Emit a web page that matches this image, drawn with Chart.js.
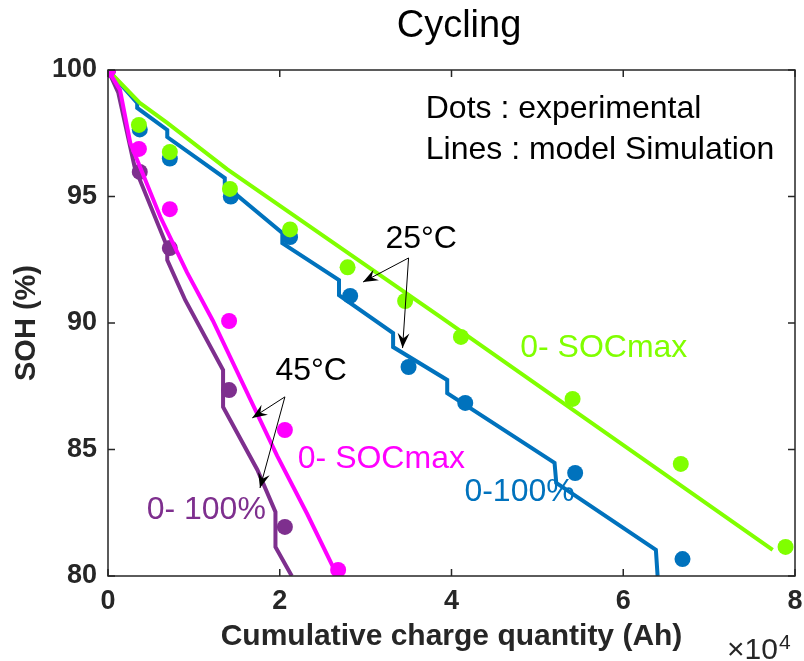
<!DOCTYPE html>
<html>
<head>
<meta charset="utf-8">
<script src="https://cdn.jsdelivr.net/npm/chart.js@4.4.1/dist/chart.umd.min.js"></script>
<style>
  html, body { margin: 0; padding: 0; background: #fff; }
  #wrap { width: 804px; height: 661px; }
</style>
</head>
<body>
<div id="wrap"><canvas id="cycling"></canvas></div>
<script>
// x in units of 1e4 Ah, y = SOH (%)
// experimental dots
const dot25SocmaxX = [0, 0.36, 0.72, 1.42, 2.12, 2.79, 3.46, 4.11, 5.41, 6.67, 7.89];
const dot25SocmaxY = [100, 97.83, 96.76, 95.3, 93.7, 92.2, 90.87, 89.45, 87.0, 84.43, 81.15];
const dot25FullX = [0, 0.37, 0.72, 1.43, 2.12, 2.82, 3.5, 4.16, 5.44, 6.69];
const dot25FullY = [100, 97.65, 96.5, 95.0, 93.4, 91.07, 88.26, 86.84, 84.07, 80.67];
const dot45SocmaxX = [0, 0.36, 0.72, 1.41, 2.06, 2.68];
const dot45SocmaxY = [100, 96.88, 94.5, 90.08, 85.77, 80.24];
const dot45FullX = [0, 0.37, 0.72, 1.41, 2.06];
const dot45FullY = [100, 95.97, 92.96, 87.35, 81.94];

// model simulation lines
const sim25SocmaxX = [0, 0.37, 0.69, 1.39, 3.87, 7.74];
const sim25SocmaxY = [100, 98.7, 97.91, 96.07, 90.24, 81.03];
const sim25FullX = [0, 0.34, 0.34, 0.69, 0.69, 1.36, 1.36, 2.03, 2.03, 2.69, 2.69, 3.32, 3.32, 3.95, 3.95, 5.2, 5.22, 6.38, 6.4];
const sim25FullY = [100, 98.7, 98.5, 97.63, 97.35, 95.73, 95.45, 93.56, 93.16, 91.7, 91.1, 89.6, 89.05, 87.75, 87.23, 84.47, 83.68, 81.03, 80.0];
const sim45SocmaxX = [0, 0.14, 0.26, 0.34, 0.61, 0.92, 1.22, 1.66, 1.97, 2.32, 2.62, 2.66];
const sim45SocmaxY = [100, 99.21, 97.11, 96.44, 94.19, 92.0, 90.1, 86.96, 84.75, 82.45, 80.36, 80.0];
const sim45FullX = [0, 0.12, 0.31, 0.69, 0.69, 0.9, 1.34, 1.34, 1.74, 1.95, 1.95, 2.14];
const sim45FullY = [100, 99.1, 96.17, 93.0, 92.49, 90.9, 88.14, 86.68, 84.19, 82.53, 81.15, 80.0];

// axis ticks
const xTicks = [0, 2, 4, 6, 8];
const yTicks = [80, 85, 90, 95, 100];

const GREEN = '#80ff00';
const BLUE = '#0072bd';
const MAGENTA = '#ff00ff';
const PURPLE = '#7e2f8e';
const AXIS = '#262626';
const FONT = '"Liberation Sans", Arial, Helvetica, sans-serif';

const pts = (xs, ys) => xs.map((x, i) => ({ x: x, y: ys[i] }));

function lineSet(xs, ys, color, order) {
    return {
        data: pts(xs, ys),
        showLine: true,
        borderColor: color,
        backgroundColor: color,
        borderWidth: 4,
        pointRadius: 0,
        tension: 0,
        order: order
    };
}
function dotSet(xs, ys, color, order) {
    return {
        data: pts(xs, ys),
        showLine: false,
        pointStyle: 'circle',
        pointRadius: 8,
        borderWidth: 0,
        backgroundColor: color,
        borderColor: color,
        order: order
    };
}

// text notes and arrows, in data units
const notes = [
    { text: 'Dots : experimental', x: 3.7, y: 98.45, color: '#000', size: 32 },
    { text: 'Lines : model Simulation', x: 3.7, y: 96.85, color: '#000', size: 32 },
    { text: '25°C', x: 3.23, y: 93.3, color: '#000', size: 32 },
    { text: '45°C', x: 1.95, y: 88.1, color: '#000', size: 32 },
    { text: '0- SOCmax', x: 4.8, y: 89.0, color: GREEN, size: 32 },
    { text: '0- SOCmax', x: 2.21, y: 84.6, color: MAGENTA, size: 32 },
    { text: '0-100%', x: 4.15, y: 83.3, color: BLUE, size: 32 },
    { text: '0- 100%', x: 0.45, y: 82.6, color: PURPLE, size: 32 }
];
const arrows = [
    { x0: 3.5, y0: 92.57, x1: 2.97, y1: 91.62 },
    { x0: 3.5, y0: 92.57, x1: 3.43, y1: 89.01 },
    { x0: 2.06, y0: 87.08, x1: 1.68, y1: 86.25 },
    { x0: 2.06, y0: 87.08, x1: 1.77, y1: 83.48 }
];

const decor = {
    id: 'decor',
    afterDraw(chart) {
        const ctx = chart.ctx;
        const a = chart.chartArea;
        const sx = chart.scales.x, sy = chart.scales.y;
        ctx.save();

        // box and inward ticks
        ctx.strokeStyle = AXIS;
        ctx.lineWidth = 1.5;
        ctx.strokeRect(a.left, a.top, a.right - a.left, a.bottom - a.top);
        ctx.beginPath();
        xTicks.forEach(v => {
            const p = sx.getPixelForValue(v);
            ctx.moveTo(p, a.bottom); ctx.lineTo(p, a.bottom - 7);
            ctx.moveTo(p, a.top); ctx.lineTo(p, a.top + 7);
        });
        yTicks.forEach(v => {
            const p = sy.getPixelForValue(v);
            ctx.moveTo(a.left, p); ctx.lineTo(a.left + 7, p);
            ctx.moveTo(a.right, p); ctx.lineTo(a.right - 7, p);
        });
        ctx.stroke();

        // title
        ctx.fillStyle = '#000';
        ctx.textAlign = 'center';
        ctx.textBaseline = 'alphabetic';
        ctx.font = '38px ' + FONT;
        ctx.fillText('Cycling', 459, 37);

        // exponent label
        ctx.textAlign = 'left';
        ctx.fillStyle = AXIS;
        ctx.font = '30px ' + FONT;
        ctx.fillText('×10', 727, 659);
        const w = ctx.measureText('×10').width;
        ctx.font = '21px ' + FONT;
        ctx.fillText('4', 727 + w + 1, 649);

        // notes
        ctx.textBaseline = 'middle';
        notes.forEach(n => {
            ctx.fillStyle = n.color;
            ctx.font = n.size + 'px ' + FONT;
            ctx.fillText(n.text, sx.getPixelForValue(n.x), sy.getPixelForValue(n.y));
        });

        // arrows
        ctx.strokeStyle = '#000';
        ctx.fillStyle = '#000';
        ctx.lineWidth = 1;
        arrows.forEach(r => {
            const x0 = sx.getPixelForValue(r.x0), y0 = sy.getPixelForValue(r.y0);
            const x1 = sx.getPixelForValue(r.x1), y1 = sy.getPixelForValue(r.y1);
            const ang = Math.atan2(y1 - y0, x1 - x0);
            ctx.beginPath();
            ctx.moveTo(x0, y0); ctx.lineTo(x1, y1);
            ctx.stroke();
            const L = 16, W = 0.38;
            ctx.beginPath();
            ctx.moveTo(x1, y1);
            ctx.lineTo(x1 - L * Math.cos(ang - W), y1 - L * Math.sin(ang - W));
            ctx.lineTo(x1 - L * 0.6 * Math.cos(ang), y1 - L * 0.6 * Math.sin(ang));
            ctx.lineTo(x1 - L * Math.cos(ang + W), y1 - L * Math.sin(ang + W));
            ctx.closePath();
            ctx.fill();
        });
        ctx.restore();
    }
};

const ctx = document.getElementById('cycling');
const chart = new Chart(ctx, {
    type: 'scatter',
    data: {
        datasets: [
            lineSet(sim25FullX, sim25FullY, BLUE, 8),
            dotSet(dot25FullX, dot25FullY, BLUE, 7),
            lineSet(sim25SocmaxX, sim25SocmaxY, GREEN, 6),
            dotSet(dot25SocmaxX, dot25SocmaxY, GREEN, 5),
            lineSet(sim45FullX, sim45FullY, PURPLE, 4),
            dotSet(dot45FullX, dot45FullY, PURPLE, 3),
            lineSet(sim45SocmaxX, sim45SocmaxY, MAGENTA, 2),
            dotSet(dot45SocmaxX, dot45SocmaxY, MAGENTA, 1)
        ]
    },
    options: {
        responsive: true,
        maintainAspectRatio: false,
        animation: false,
        layout: {
            padding: { left: 0, right: 0, top: 70, bottom: 0 }
        },
        plugins: {
            legend: { display: false },
            tooltip: { enabled: false }
        },
        scales: {
            x: {
                type: 'linear',
                min: 0,
                max: 8,
                afterBuildTicks: s => { s.ticks = xTicks.map(v => ({ value: v })); },
                afterFit: s => { s.height = 85; s.paddingRight = 9; s.paddingLeft = 0; },
                grid: { display: false, drawTicks: false },
                border: { display: false },
                ticks: {
                    color: AXIS,
                    padding: 9,
                    font: { family: FONT, size: 27, weight: 'bold' }
                },
                title: {
                    display: true,
                    text: 'Cumulative charge quantity (Ah)',
                    color: AXIS,
                    padding: { top: 0, bottom: 6 },
                    font: { family: FONT, size: 30, weight: 'bold' }
                }
            },
            y: {
                type: 'linear',
                min: 80,
                max: 100,
                afterBuildTicks: s => { s.ticks = yTicks.map(v => ({ value: v })); },
                afterFit: s => { s.width = 108; s.paddingTop = 0; s.paddingBottom = 0; },
                grid: { display: false, drawTicks: false },
                border: { display: false },
                ticks: {
                    color: AXIS,
                    padding: 11,
                    font: { family: FONT, size: 27, weight: 'bold' }
                },
                title: {
                    display: true,
                    text: 'SOH (%)',
                    color: AXIS,
                    padding: { top: 10, bottom: 0 },
                    font: { family: FONT, size: 29, weight: 'bold' }
                }
            }
        }
    },
    plugins: [decor]
});
</script>
</body>
</html>
